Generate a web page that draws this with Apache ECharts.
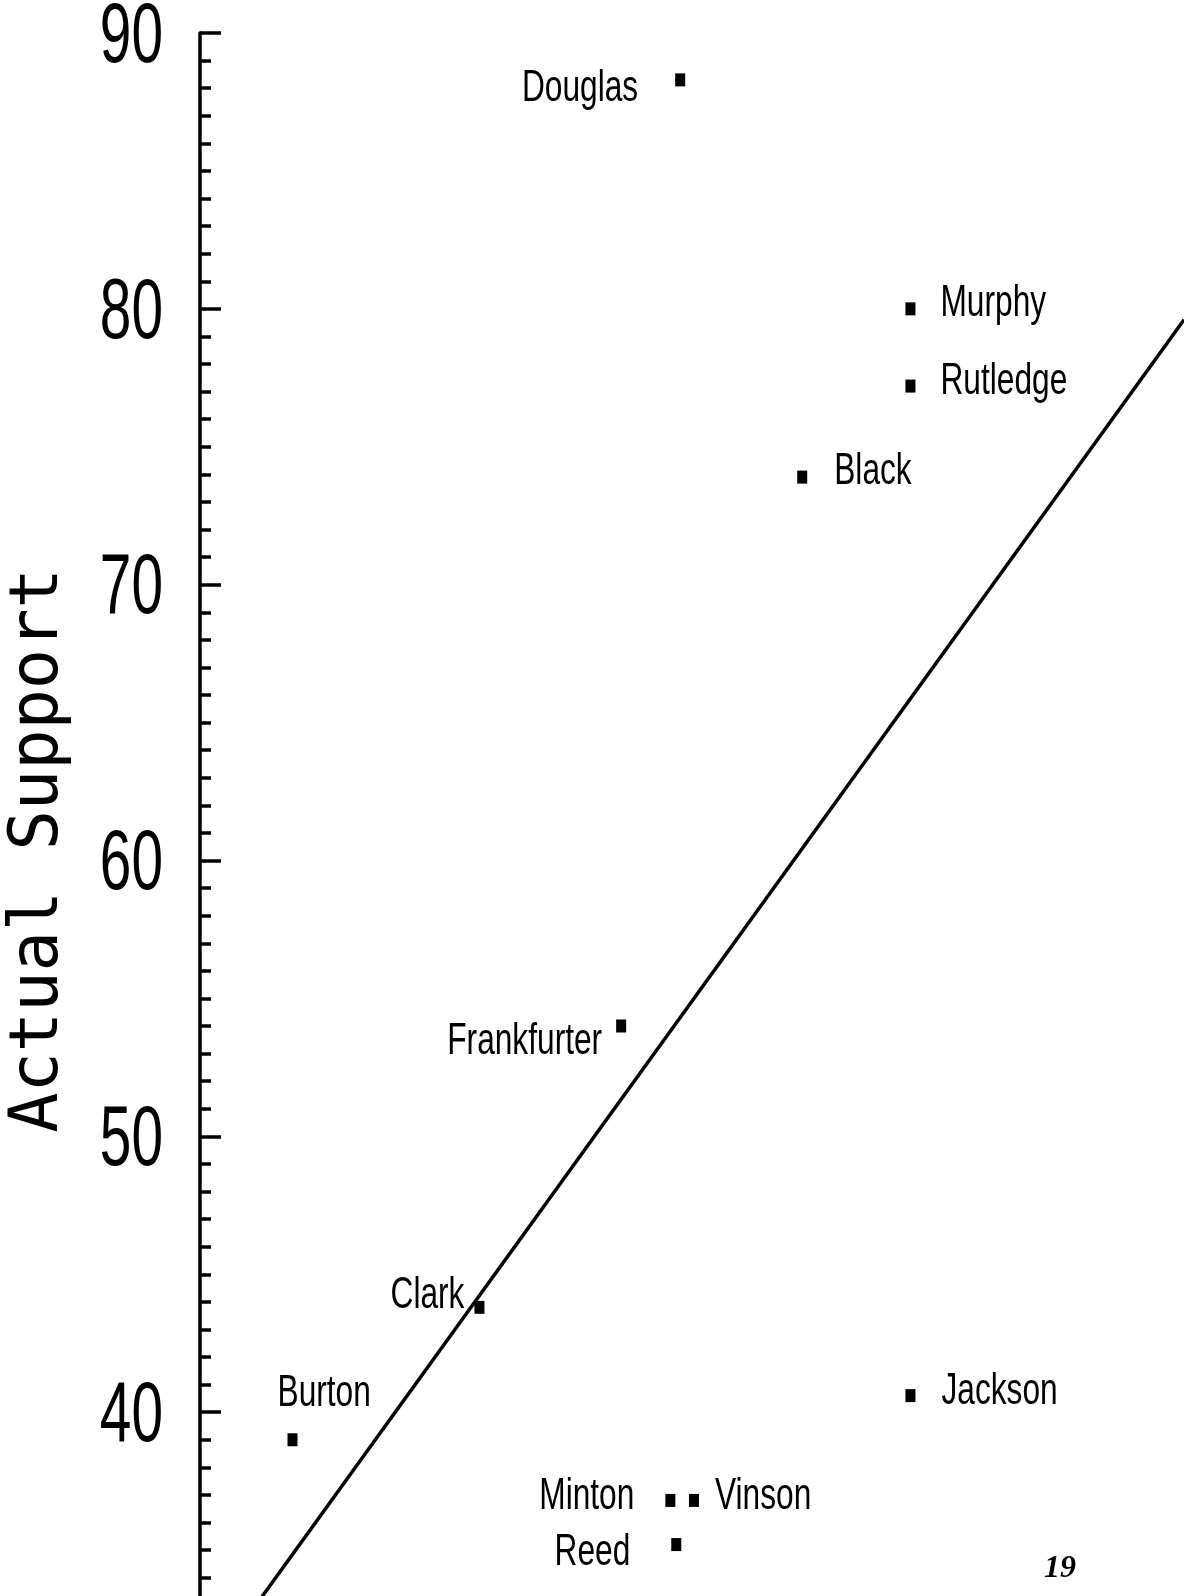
<!DOCTYPE html>
<html>
<head>
<meta charset="utf-8">
<script src="https://cdn.jsdelivr.net/npm/echarts@6/dist/echarts.min.js"></script>
<style>
html,body{margin:0;padding:0;background:#fff;}
#chart{width:1184px;height:1596px;}
</style>
</head>
<body>
<div id="chart"></div>
<script>
// ---- data ----
const justices = ['Douglas','Murphy','Rutledge','Black','Frankfurter','Clark','Burton','Jackson','Minton','Vinson','Reed'];
const predictedSupport = [54.4, 66.1, 66.1, 60.6, 51.4, 44.2, 34.7, 66.1, 53.9, 55.1, 54.2];
const actualSupport    = [88.3, 80.0, 77.2, 73.9, 54.0, 43.8, 39.0, 40.6, 36.8, 36.8, 35.2];
const fitLineX = [29.8, 80.0];
const fitLineY = [30.0, 79.6];
const yTicks = [30, 40, 50, 60, 70, 80, 90];
const yTickLabels = ['30', '40', '50', '60', '70', '80', '90'];
const yAxisTitle = 'Actual Support';
const pageNumber = '19';

// ---- label placement (style, not data) ----
const labelPlace = {
  Douglas:     {align:'right', dx:-42, dy:9},
  Murphy:      {align:'left',  dx:30,  dy:-5},
  Rutledge:    {align:'left',  dx:30,  dy:-4},
  Black:       {align:'left',  dx:32,  dy:-5},
  Frankfurter: {align:'right', dx:-19, dy:16},
  Clark:       {align:'right', dx:-15, dy:-11},
  Burton:      {align:'left',  dx:-15, dy:-46},
  Jackson:     {align:'left',  dx:31,  dy:-4},
  Minton:      {align:'right', dx:-36, dy:-4},
  Vinson:      {align:'left',  dx:21,  dy:-4},
  Reed:        {align:'right', dx:-46, dy:8}
};

const X_MIN = 30, X_MAX = 80;
const points = justices.map((n, i) => [predictedSupport[i], actualSupport[i]]);
const fitLine = fitLineX.map((x, i) => [x, fitLineY[i]]);
const tickData = yTicks.map(t => [X_MIN, t]);

const chart = echarts.init(document.getElementById('chart'), null, {renderer:'canvas'});
chart.setOption({
  backgroundColor: '#ffffff',
  animation: false,
  grid: {left:200, right:0, top:33, bottom:-92, containLabel:false, outerBoundsMode:'none'},
  xAxis: {
    type:'value', min:X_MIN, max:X_MAX, show:false
  },
  yAxis: {
    type:'value',
    min: yTicks[0], max: yTicks[yTicks.length-1], interval: 10,
    name: yAxisTitle,
    nameLocation: 'middle',
    nameGap: 127,
    nameTextStyle: {fontFamily:'DejaVu Sans Mono', fontSize:67, color:'#000', padding:[0,0,0,20]},
    axisLine: {show:true, lineStyle:{color:'#000', width:3.5}},
    axisTick: {show:true, inside:true, length:21, lineStyle:{color:'#000', width:3.5}},
    minorTick: {show:true, splitNumber:10, length:11, lineStyle:{color:'#000', width:3.5}},
    splitLine: {show:false},
    axisLabel: {show:false}
  },
  series: [
    {
      type:'line', data: fitLine, symbol:'none', silent:true,
      lineStyle:{color:'#000', width:3.5}, clip:true
    },
    {
      type:'scatter', data: points, symbol:'rect', symbolSize:[10,13],
      itemStyle:{color:'#000', opacity:1}
    },
    {
      // point labels (condensed text)
      type:'custom', data: points, silent:true,
      renderItem: function(params, api){
        const pt = api.coord([api.value(0), api.value(1)]);
        const name = justices[params.dataIndex];
        const p = labelPlace[name];
        return {
          type:'text',
          x: pt[0] + p.dx, y: pt[1] + p.dy,
          scaleX: 0.72,
          style: {
            text: name, fill:'#000',
            fontFamily:'Liberation Sans', fontSize:44,
            align: p.align, verticalAlign:'middle'
          }
        };
      }
    },
    {
      // y-axis tick labels (condensed text, positioned by the y scale)
      type:'custom', data: tickData, silent:true, clip:false,
      renderItem: function(params, api){
        const pt = api.coord([api.value(0), api.value(1)]);
        return {
          type:'text',
          x: pt[0] - 37, y: pt[1] + 5,
          scaleX: 0.66,
          style: {
            text: yTickLabels[params.dataIndex], fill:'#000',
            fontFamily:'Liberation Sans', fontSize:86,
            align:'right', verticalAlign:'middle'
          }
        };
      }
    }
  ],
  graphic: [
    {
      type:'text', right: 108, bottom: 11,
      style: {text: pageNumber, fill:'#000', font:'italic bold 32px "Liberation Serif"'}
    }
  ]
});
</script>
</body>
</html>
